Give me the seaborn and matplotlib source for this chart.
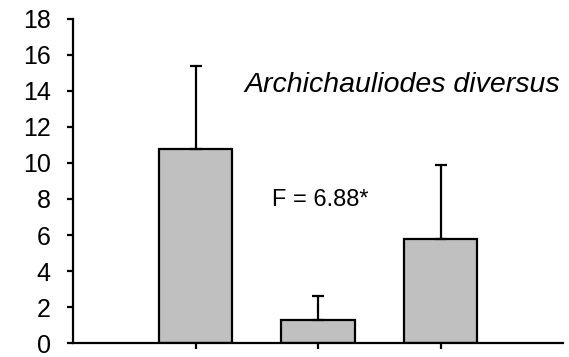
import numpy as np
import pandas as pd
import matplotlib
matplotlib.use("Agg")
import matplotlib.pyplot as plt
import seaborn as sns

# Mean abundance per group with the upper standard-error arm
categories = ["1", "2", "3"]
means = [10.8, 1.3, 5.8]
errors = [4.6, 1.3, 4.1]
y_ticks = [0, 2, 4, 6, 8, 10, 12, 14, 16, 18]

species = "Archichauliodes diversus"
stat_label = "F = 6.88*"

sns.set_theme(style="ticks")
plt.rcParams["font.family"] = ["Liberation Sans", "DejaVu Sans"]

df = pd.DataFrame({"group": categories, "mean": means})

fig = plt.figure(figsize=(5.69, 3.57), dpi=100)
ax = fig.add_axes([0.1283, 0.0392, 0.8612, 0.9076])

sns.barplot(data=df, x="group", y="mean", order=categories,
            color="#C0C0C0", saturation=1, width=0.6,
            edgecolor="black", linewidth=1.6, errorbar=None, ax=ax)

xpos = np.arange(len(categories))
ax.errorbar(xpos, means, yerr=[np.zeros(len(errors)), errors], fmt="none",
            ecolor="black", elinewidth=1.6, capsize=4.5, capthick=1.6, zorder=3)

ax.set_xlim(-1, 3)
ax.set_ylim(0, 18)
ax.set_yticks(y_ticks)
ax.set_yticklabels([str(t) for t in y_ticks], fontsize=18)
ax.set_xticks(xpos)
ax.set_xticklabels([""] * len(categories))
ax.set_xlabel("")
ax.set_ylabel("")

for side in ("top", "right"):
    ax.spines[side].set_visible(False)
for side in ("left", "bottom"):
    ax.spines[side].set_linewidth(1.6)
    ax.spines[side].set_color("black")
ax.tick_params(axis="both", length=4, width=1.6, color="black", labelcolor="black")
ax.tick_params(axis="y", pad=12)

ax.text(2.975, 13.95, species, style="italic", fontsize=20.5,
        ha="right", va="baseline", color="black")
ax.text(0.625, 7.6, stat_label, fontsize=17, ha="left", va="baseline", color="black")

fig.savefig("out.png", dpi=100)
